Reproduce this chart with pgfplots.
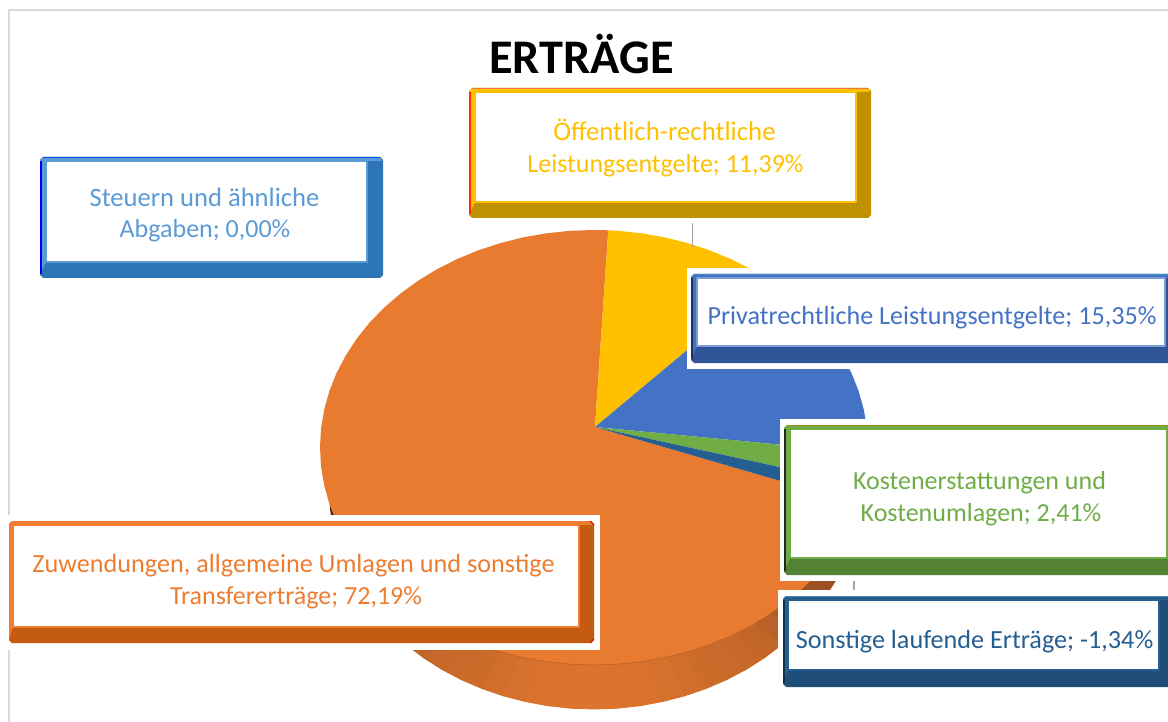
\documentclass[border=0pt]{standalone}
\usepackage{pgfplots}
\pgfplotsset{compat=1.18}
\usepackage{fontspec}
\setmainfont{Carlito}
\definecolor{cOrange}{HTML}{ED7D31}
\definecolor{cYellow}{HTML}{FFC000}
\definecolor{cBlue}{HTML}{4472C4}
\definecolor{cGreen}{HTML}{70AD47}
\definecolor{cNavy}{HTML}{255E91}
\definecolor{cSky}{HTML}{5B9BD5}
\definecolor{dSky}{HTML}{2E75B6}
\definecolor{dYellow}{HTML}{BF9000}
\definecolor{dBlue}{HTML}{2F5597}
\definecolor{dGreen}{HTML}{548235}
\definecolor{dNavy}{HTML}{1F4E79}
\definecolor{dOrange}{HTML}{C55A11}
\newcommand{\innerbox}[5]{%
  \addplot[fill=white,draw=#5,line width=1.2pt] coordinates {(#1,#2) (#3,#2) (#3,#4) (#1,#4)} --cycle;
}
\newcommand{\halo}[4]{%
  \addplot[fill=white,draw=none] coordinates {(#1,#2) (#3,#2) (#3,#4) (#1,#4)} --cycle;
}
% one band of the pie's side: percent of orange, then two rim points
\newcommand{\band}[5]{%
  \addplot[fill=cOrange!#1!black,draw=cOrange!#1!black,line width=0.9pt] coordinates {(594,490) (#2,#3) (#4,#5)} --cycle;
}
\begin{document}
\begin{tikzpicture}
\begin{axis}[
  scale only axis, width=1168pt, height=722pt,
  xmin=0, xmax=1168, ymin=0, ymax=722, y dir=reverse,
  axis lines=none, clip=true, anchor=south west, at={(0pt,0pt)},
  line join=round]
% background and frame
\addplot[fill=white,draw=none] coordinates {(0,0) (1168,0) (1168,722) (0,722)} --cycle;
\addplot[draw=black!15,line width=2pt] coordinates {(9,740) (9,10) (1180,10)};
% pie side (lower ellipse)
\addplot[fill=cOrange!30!black,draw=none] coordinates {(594,490) (329,490) (330,509.1) (333,528) (338,546.7) (353.8,582.6)} --cycle;
\band{78}{353.8}{582.6}{376.9}{615.6}
\band{80}{376.9}{615.6}{406.6}{644.9}
\band{82}{406.6}{644.9}{423.7}{657.8}
\band{83}{423.7}{657.8}{442}{669.4}
\band{85}{442}{669.4}{461.5}{679.7}
\band{86}{461.5}{679.7}{482}{688.5}
\band{88}{482}{688.5}{503.4}{695.8}
\band{90}{503.4}{695.8}{525.4}{701.5}
\band{91}{525.4}{701.5}{548}{705.7}
\band{92}{548}{705.7}{570.9}{708.2}
\band{93}{570.9}{708.2}{594}{709}
\band{93}{594}{709}{617.1}{708.2}
\band{92}{617.1}{708.2}{640}{705.7}
\band{91}{640}{705.7}{662.6}{701.5}
\band{90}{662.6}{701.5}{684.6}{695.8}
\band{88}{684.6}{695.8}{706}{688.5}
\band{86}{706}{688.5}{726.5}{679.7}
\band{85}{726.5}{679.7}{746}{669.4}
\band{83}{746}{669.4}{764.3}{657.8}
\band{82}{764.3}{657.8}{781.4}{644.9}
\band{78}{781.4}{644.9}{797}{630.8}
\band{74}{797}{630.8}{811.1}{615.6}
\band{70}{811.1}{615.6}{823.5}{599.5}
\band{66}{823.5}{599.5}{834.2}{582.6}
\band{62}{834.2}{582.6}{843}{564.9}
\band{62}{843}{564.9}{850}{546.7}
\band{62}{850}{546.7}{855}{528}
\band{62}{855}{528}{859}{490}
% pie top: orange
\addplot[fill=cOrange!98!black,draw=none] coordinates {(595,427) (858.7,503.8) (851.5,521.9) (842.3,539.4) (831.3,556.25) (818.5,572.3) (803.9,587.3) (787.7,601.3) (770.1,614.1) (751.2,625.7) (731,635.9) (709.8,644.6) (687.7,651.9) (664.9,657.6) (641.6,661.7) (617.9,664.2) (594,665) (570.1,664.2) (546.4,661.7) (523.1,657.6) (500.3,651.9) (478.2,644.6) (457,635.9) (436.8,625.7) (417.9,614.1) (400.3,601.3) (384.1,587.3) (369.5,572.3) (356.7,556.25) (345.7,539.4) (336.5,521.9) (329.3,503.8) (324.2,485.3) (321,466.5) (320,447.5) (321,428.5) (324.2,409.7) (329.3,391.2) (336.5,373.1) (345.7,355.6) (356.7,338.75) (369.5,322.7) (384.1,307.7) (400.3,293.7) (417.9,280.9) (436.8,269.3) (457,259.1) (478.2,250.4) (500.3,243.1) (523.1,237.4) (546.4,233.3) (570.1,230.8) (594,230) (608.3,230.3)} --cycle;
% top-edge seam
\addplot[draw=cOrange!80!black,line width=0.7pt] coordinates {(436.8,625.7) (457,635.9) (478.2,644.6) (500.3,651.9) (523.1,657.6) (546.4,661.7) (570.1,664.2) (594,665) (617.9,664.2) (641.6,661.7) (664.9,657.6) (687.7,651.9) (709.8,644.6) (731,635.9) (751.2,625.7) (770.1,614.1) (787.7,601.3)};
% pie top: yellow
\addplot[fill=cYellow,draw=none] coordinates {(595,427) (608.3,230.3) (617.9,230.8) (641.6,233.3) (664.9,237.4) (687.7,243.1) (709.8,250.4) (731,259.1) (751.2,269.3) (770.1,280.9)} --cycle;
% pie top: blue
\addplot[fill=cBlue,draw=none] coordinates {(595,427) (770.1,280.9) (787.7,293.7) (803.9,307.7) (818.5,322.7) (831.3,338.75) (842.3,355.6) (851.5,373.1) (858.7,391.2) (863.8,409.7) (867,428.5) (868,447.5) (867.8,453)} --cycle;
% pie top: green
\addplot[fill=cGreen,draw=none] coordinates {(595,427) (867.8,453) (867,466.5) (863.8,485.3)} --cycle;
% pie top: navy
\addplot[fill=cNavy,draw=none] coordinates {(595,427) (863.8,485.3) (858.7,503.8)} --cycle;
% leader lines
\addplot[draw=black!35,line width=1pt] coordinates {(692,223) (692,247)};
\addplot[draw=black!35,line width=1.5pt] coordinates {(854,581) (854,590)};
% halos
\halo{687}{268}{1168}{369}
\halo{780}{419}{1168}{581}
\halo{778}{590}{1168}{695}
\halo{0}{515}{600}{650}
% Steuern
\addplot[fill=dSky,draw=none] coordinates {(43,157) (380,157) (383,160) (383,275) (380,278) (43,278) (40,275) (40,160)} --cycle;
\addplot[fill=cSky,draw=none] coordinates {(43,157) (380,157) (382,161) (46,161) (46,262) (40,275) (40,160)} --cycle;
\addplot[draw=blue!70!cyan,line width=1.3pt] coordinates {(43,157.7) (380,157.7)};
\addplot[draw=blue,line width=2pt] coordinates {(41,161) (41,274)};
\innerbox{46}{161}{367}{262}{cSky}
% Oeffentlich
\addplot[fill=dYellow,draw=none] coordinates {(472,88) (868,88) (871,91) (871,215) (868,218) (472,218) (469,215) (469,91)} --cycle;
\addplot[fill=cYellow,draw=none] coordinates {(472,88) (868,88) (870,92) (475,92) (475,202) (469,215) (469,91)} --cycle;
\addplot[draw=cOrange,line width=1.3pt] coordinates {(472,88.7) (868,88.7)};
\addplot[draw=red!85!yellow,line width=2pt] coordinates {(470,92) (470,214)};
\innerbox{475}{92}{856}{202}{cYellow}
% Privat
\addplot[fill=dBlue,draw=none] coordinates {(694,274) (1180,274) (1180,363) (694,363) (691,360) (691,277)} --cycle;
\addplot[fill=cBlue,draw=none] coordinates {(694,274) (1180,274) (1180,278) (697,278) (697,346) (691,360) (691,277)} --cycle;
\addplot[draw=cyan!50!dBlue,line width=1.3pt] coordinates {(694,274.7) (1180,274.7)};
\addplot[draw=dBlue!60!black,line width=2pt] coordinates {(692,278) (692,359)};
\innerbox{697}{278}{1165}{346}{cBlue!70!white}
% Kosten
\addplot[fill=dGreen,draw=none] coordinates {(787,425) (1180,425) (1180,575) (787,575) (784,572) (784,428)} --cycle;
\addplot[fill=cGreen,draw=none] coordinates {(787,425) (1180,425) (1180,429) (790,429) (790,558) (784,572) (784,428)} --cycle;
\addplot[draw=dYellow!70!dGreen,line width=1.3pt] coordinates {(787,425.7) (1180,425.7)};
\addplot[draw=black!85,line width=2pt] coordinates {(785,429) (785,571)};
\innerbox{790}{429}{1167}{558}{cGreen}
% Sonstige
\addplot[fill=dNavy,draw=none] coordinates {(786,596) (1180,596) (1180,687) (786,687) (783,684) (783,599)} --cycle;
\addplot[fill=cNavy,draw=none] coordinates {(786,596) (1180,596) (1180,600) (788,600) (788,670) (783,684) (783,599)} --cycle;
\addplot[draw=cyan!40!dNavy,line width=1.3pt] coordinates {(786,596.7) (1180,596.7)};
\addplot[draw=dNavy!60!black,line width=2pt] coordinates {(784,600) (784,683)};
\innerbox{788}{600}{1159}{670}{cNavy}
% Zuwendungen
\addplot[fill=dOrange,draw=none] coordinates {(12,521) (591,521) (594,524) (594,640) (591,643) (12,643) (9,640) (9,524)} --cycle;
\addplot[fill=cOrange,draw=none] coordinates {(12,521) (591,521) (593,525) (13,525) (13,627) (9,640) (9,524)} --cycle;
\addplot[draw=red!90!black,line width=1pt] coordinates {(590,521) (594,525)};
\addplot[draw=red!90!black,line width=1pt] coordinates {(590,643) (594,639)};
\innerbox{13}{525}{579}{627}{cOrange}
% text
\node[anchor=base,font=\fontsize{48.3}{50}\selectfont\bfseries,text=black] at (axis cs:581.5,74) {ERTRÄGE};
\node[anchor=base,font=\fontsize{26.6}{30}\selectfont,text=cSky] at (axis cs:204.5,207) {Steuern und ähnliche};
\node[anchor=base,font=\fontsize{26}{30}\selectfont,text=cSky] at (axis cs:205,238) {Abgaben; 0,00\%};
\node[anchor=base,font=\fontsize{26.8}{30}\selectfont,text=cYellow] at (axis cs:664.5,141) {Öffentlich-rechtliche};
\node[anchor=base,font=\fontsize{26}{30}\selectfont,text=cYellow] at (axis cs:665.5,173) {Leistungsentgelte; 11,39\%};
\node[anchor=base,font=\fontsize{26.1}{30}\selectfont,text=cBlue] at (axis cs:932,324) {Privatrechtliche Leistungsentgelte; 15,35\%};
\node[anchor=base,font=\fontsize{26}{30}\selectfont,text=cGreen] at (axis cs:979.5,489) {Kostenerstattungen und};
\node[anchor=base,font=\fontsize{26}{30}\selectfont,text=cGreen] at (axis cs:981,521) {Kostenumlagen; 2,41\%};
\node[anchor=base,font=\fontsize{26.2}{30}\selectfont,text=cNavy] at (axis cs:974.5,648) {Sonstige laufende Erträge; -1,34\%};
\node[anchor=base,font=\fontsize{26.2}{30}\selectfont,text=cOrange] at (axis cs:293.5,572) {Zuwendungen, allgemeine Umlagen und sonstige};
\node[anchor=base,font=\fontsize{26}{30}\selectfont,text=cOrange] at (axis cs:296,604) {Transfererträge; 72,19\%};
\end{axis}
\end{tikzpicture}
\end{document}
